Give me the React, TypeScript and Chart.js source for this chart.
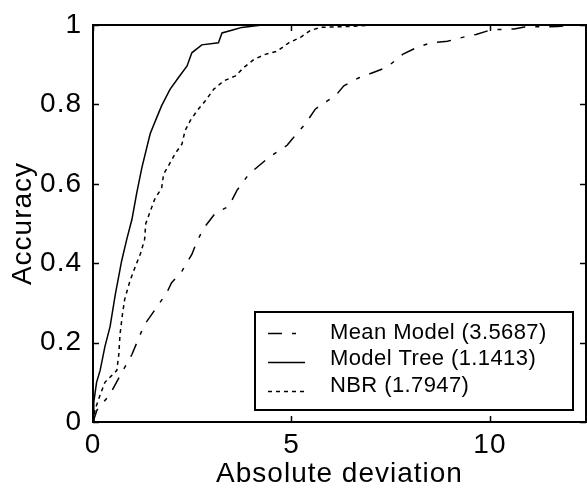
import React, { useEffect, useRef } from "react";
import { Chart, registerables } from "chart.js";

Chart.register(...registerables);

const FONT = "'Liberation Sans', Arial, Helvetica, sans-serif";

const xTicks = [0, 5, 10];
const yTicks = [0, 0.2, 0.4, 0.6, 0.8, 1];
const xMax = 12.42;

const seriesNames = ["Mean Model (3.5687)", "Model Tree (1.1413)", "NBR (1.7947)"];

const meanX = [0, 0.1, 0.43, 0.7, 0.98, 1.23, 1.31, 1.57, 1.86, 1.98, 2.24, 2.49, 2.62, 2.79, 3.08, 3.42, 3.63, 3.88, 4.09, 4.45, 4.89, 5.02, 5.35, 5.6, 5.78, 6.11, 6.32, 6.7, 7.16, 7.41, 7.8, 8.17, 8.51, 8.93, 9.43, 9.65, 10.03, 10.61, 10.87, 11.7, 12.1, 12.42];
const meanY = [0, 0.03, 0.07, 0.12, 0.17, 0.23, 0.247, 0.284, 0.326, 0.351, 0.38, 0.422, 0.455, 0.488, 0.526, 0.543, 0.584, 0.618, 0.638, 0.668, 0.697, 0.713, 0.751, 0.788, 0.801, 0.822, 0.847, 0.867, 0.884, 0.894, 0.926, 0.944, 0.955, 0.959, 0.972, 0.976, 0.988, 0.99, 0.995, 0.996, 1, 1];

const treeX = [0, 0.02, 0.09, 0.18, 0.3, 0.43, 0.56, 0.72, 0.85, 0.98, 1.1, 1.23, 1.44, 1.61, 1.73, 1.94, 2.15, 2.37, 2.49, 2.74, 3.16, 3.25, 3.54, 3.75, 4.26, 12.42];
const treeY = [0, 0.05, 0.1, 0.13, 0.19, 0.24, 0.32, 0.405, 0.46, 0.51, 0.576, 0.64, 0.726, 0.768, 0.797, 0.838, 0.867, 0.897, 0.93, 0.95, 0.955, 0.98, 0.988, 0.994, 1, 1];

const nbrX = [0, 0.05, 0.15, 0.3, 0.45, 0.6, 0.65, 0.68, 0.74, 0.8, 0.93, 1.06, 1.2, 1.3, 1.33, 1.44, 1.55, 1.73, 1.78, 1.9, 2.07, 2.24, 2.32, 2.45, 2.62, 2.83, 3.04, 3.29, 3.59, 3.8, 4.05, 4.34, 4.64, 4.93, 5.23, 5.47, 5.73, 6.6, 7, 12.42];
const nbrY = [0, 0.03, 0.06, 0.1, 0.115, 0.13, 0.17, 0.22, 0.27, 0.31, 0.355, 0.39, 0.425, 0.46, 0.5, 0.53, 0.56, 0.59, 0.625, 0.645, 0.676, 0.7, 0.734, 0.759, 0.784, 0.809, 0.838, 0.859, 0.872, 0.893, 0.913, 0.926, 0.934, 0.955, 0.969, 0.986, 0.994, 0.997, 1, 1];

const toPoints = (xs: number[], ys: number[]) => xs.map((x, i) => ({ x, y: ys[i] }));

const spacingPlugin = {
  id: "letterSpacing",
  beforeDraw(chart: any) {
    (chart.ctx as any).letterSpacing = "1px";
  },
};

const framePlugin = {
  id: "frameAndLegend",
  afterDatasetsDraw(chart: any) {
    const { ctx, chartArea: a, scales } = chart;
    ctx.save();
    ctx.strokeStyle = "#000";
    ctx.lineWidth = 2;
    ctx.strokeRect(a.left, a.top, a.right - a.left, a.bottom - a.top);
    const tl = 6;
    ctx.lineWidth = 1.5;
    ctx.beginPath();
    for (const v of xTicks) {
      const px = Math.round(scales.x.getPixelForValue(v)) + 0.5;
      ctx.moveTo(px, a.bottom);
      ctx.lineTo(px, a.bottom - tl);
      ctx.moveTo(px, a.top);
      ctx.lineTo(px, a.top + tl);
    }
    for (const v of yTicks) {
      const py = Math.round(scales.y.getPixelForValue(v)) + 0.5;
      ctx.moveTo(a.left, py);
      ctx.lineTo(a.left + tl, py);
      ctx.moveTo(a.right, py);
      ctx.lineTo(a.right - tl, py);
    }
    ctx.stroke();

    // legend box
    const bw = 318;
    const bh = 98;
    const bx = a.right - 13 - bw;
    const by = a.bottom - 12 - bh;
    ctx.fillStyle = "#fff";
    ctx.fillRect(bx, by, bw, bh);
    ctx.lineWidth = 2;
    ctx.strokeRect(bx, by, bw, bh);
    ctx.font = `22px ${FONT}`;
    (ctx as any).letterSpacing = "0.4px";
    ctx.textBaseline = "middle";
    ctx.textAlign = "left";
    ctx.fillStyle = "#000";
    const lineOffsets = [21, 50, 79];
    const textOffsets = [21, 47, 74];
    chart.data.datasets.forEach((ds: any, i: number) => {
      const ly = by + lineOffsets[i] + 0.5;
      ctx.beginPath();
      ctx.setLineDash(ds.borderDash || []);
      ctx.lineWidth = ds.borderWidth;
      ctx.moveTo(bx + 13, ly);
      ctx.lineTo(bx + 50, ly);
      ctx.stroke();
      ctx.setLineDash([]);
      ctx.fillText(ds.label, bx + 75, by + textOffsets[i]);
    });
    ctx.restore();
  },
};

export default function App() {
  const ref = useRef<HTMLCanvasElement | null>(null);
  useEffect(() => {
    document.body.style.margin = "0";
    const canvas = ref.current;
    if (!canvas) return;
    const axisFont = { size: 28, family: FONT, lineHeight: 1 };
    const chart = new Chart(canvas, {
      type: "line",
      data: {
        datasets: [
          {
            label: seriesNames[0],
            data: toPoints(meanX, meanY),
            borderColor: "#000",
            borderWidth: 1.5,
            borderDash: [14, 10, 4, 10],
            pointRadius: 0,
            fill: false,
            tension: 0,
          },
          {
            label: seriesNames[1],
            data: toPoints(treeX, treeY),
            borderColor: "#000",
            borderWidth: 1.5,
            borderDash: [],
            pointRadius: 0,
            fill: false,
            tension: 0,
          },
          {
            label: seriesNames[2],
            data: toPoints(nbrX, nbrY),
            borderColor: "#000",
            borderWidth: 1.5,
            borderDash: [4, 4],
            pointRadius: 0,
            fill: false,
            tension: 0,
          },
        ],
      },
      options: {
        responsive: false,
        animation: false,
        devicePixelRatio: 1,
        layout: { padding: { top: 22, right: 1, left: 0, bottom: 0 } },
        plugins: { legend: { display: false }, tooltip: { enabled: false } },
        scales: {
          x: {
            type: "linear",
            min: 0,
            max: xMax,
            grid: { display: false, drawTicks: false },
            border: { display: false },
            ticks: {
              padding: 9,
              color: "#000",
              font: axisFont,
              callback: (v: any) => String(v),
            },
            title: {
              display: true,
              text: "Absolute deviation",
              color: "#000",
              font: axisFont,
              padding: { top: 0, bottom: 0 },
            },
            afterBuildTicks: (s: any) => {
              s.ticks = xTicks.map((v) => ({ value: v }));
            },
            afterFit: (s: any) => {
              s.height = 66;
            },
          },
          y: {
            type: "linear",
            min: 0,
            max: 1,
            grid: { display: false, drawTicks: false },
            border: { display: false },
            ticks: {
              padding: 11,
              color: "#000",
              font: axisFont,
              callback: (v: any) => String(Math.round(v * 10) / 10),
            },
            title: {
              display: true,
              text: "Accuracy",
              color: "#000",
              font: axisFont,
              padding: { top: 9, bottom: 0 },
            },
            afterBuildTicks: (s: any) => {
              s.ticks = yTicks.map((v) => ({ value: v }));
            },
            afterFit: (s: any) => {
              s.width = 93;
            },
          },
        },
      },
      plugins: [spacingPlugin, framePlugin],
    } as any);
    return () => chart.destroy();
  }, []);
  return (
    <div style={{ position: "absolute", left: 0, top: 0, width: 587, height: 488 }}>
      <canvas ref={ref} width={587} height={488} style={{ display: "block" }} />
    </div>
  );
}
